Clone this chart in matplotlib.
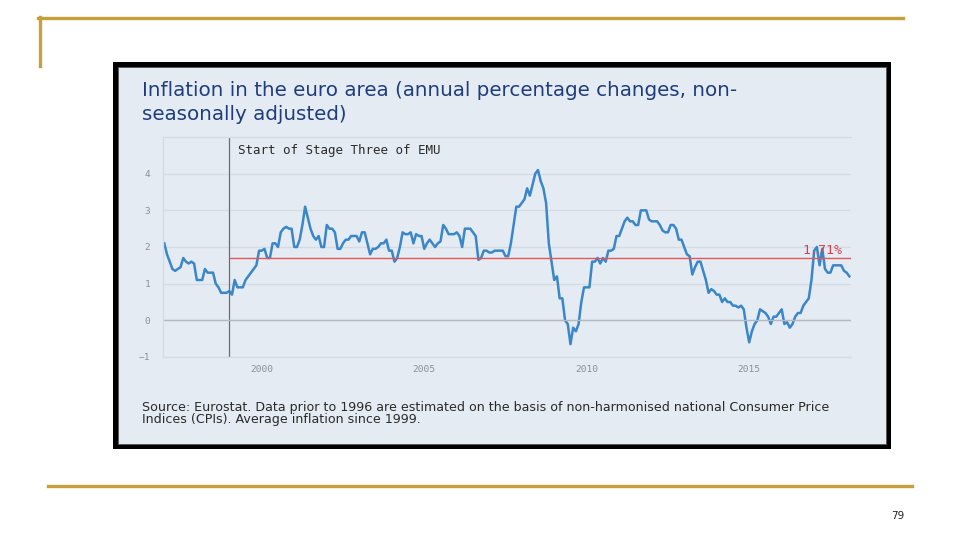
import numpy as np
from matplotlib import pyplot as pp
from matplotlib.lines import Line2D
from matplotlib.patches import Rectangle

# monthly HICP, annual % change, Jan 1997 .. Feb 2018
infl = [
    2.1, 1.8, 1.6, 1.4, 1.35, 1.4, 1.45, 1.7, 1.6, 1.55, 1.6, 1.55,   # 1997
    1.1, 1.1, 1.1, 1.4, 1.3, 1.3, 1.3, 1.0, 0.9, 0.75, 0.75, 0.75,   # 1998
    0.8, 0.7, 1.1, 0.9, 0.9, 0.9, 1.1, 1.2, 1.3, 1.4, 1.5, 1.9,      # 1999
    1.9, 1.95, 1.7, 1.7, 2.1, 2.1, 2.0, 2.4, 2.5, 2.55, 2.5, 2.5,    # 2000
    2.0, 2.0, 2.2, 2.6, 3.1, 2.8, 2.5, 2.3, 2.2, 2.3, 2.0, 2.0,      # 2001
    2.6, 2.5, 2.5, 2.4, 1.95, 1.95, 2.1, 2.2, 2.2, 2.3, 2.3, 2.3,    # 2002
    2.15, 2.4, 2.4, 2.1, 1.8, 1.95, 1.95, 2.0, 2.1, 2.1, 2.2, 1.9,   # 2003
    1.9, 1.6, 1.7, 2.0, 2.4, 2.35, 2.35, 2.4, 2.1, 2.35, 2.3, 2.3,   # 2004
    1.95, 2.1, 2.2, 2.1, 2.0, 2.1, 2.15, 2.6, 2.5, 2.35, 2.35, 2.35, # 2005
    2.4, 2.3, 2.0, 2.5, 2.5, 2.5, 2.4, 2.3, 1.65, 1.7, 1.9, 1.9,     # 2006
    1.85, 1.85, 1.9, 1.9, 1.9, 1.9, 1.75, 1.75, 2.1, 2.6, 3.1, 3.1,  # 2007
    3.2, 3.3, 3.6, 3.4, 3.7, 4.0, 4.1, 3.8, 3.6, 3.2, 2.1, 1.6,      # 2008
    1.1, 1.2, 0.6, 0.6, 0.0, -0.1, -0.65, -0.2, -0.3, -0.1, 0.5, 0.9,  # 2009
    0.9, 0.9, 1.6, 1.6, 1.7, 1.55, 1.7, 1.6, 1.9, 1.9, 1.95, 2.3,    # 2010
    2.3, 2.5, 2.7, 2.8, 2.7, 2.7, 2.6, 2.6, 3.0, 3.0, 3.0, 2.75,     # 2011
    2.7, 2.7, 2.7, 2.6, 2.45, 2.4, 2.4, 2.6, 2.6, 2.5, 2.2, 2.2,     # 2012
    2.0, 1.8, 1.75, 1.25, 1.45, 1.6, 1.6, 1.35, 1.1, 0.75, 0.85, 0.8,  # 2013
    0.7, 0.7, 0.5, 0.6, 0.5, 0.5, 0.4, 0.4, 0.35, 0.4, 0.3, -0.2,    # 2014
    -0.6, -0.3, -0.1, 0.0, 0.3, 0.25, 0.2, 0.1, -0.1, 0.1, 0.1, 0.2,  # 2015
    0.3, -0.1, -0.05, -0.2, -0.1, 0.1, 0.2, 0.2, 0.4, 0.5, 0.6, 1.1,  # 2016
    1.9, 2.0, 1.5, 1.95, 1.4, 1.3, 1.3, 1.5, 1.5, 1.5, 1.5, 1.35,    # 2017
    1.3, 1.2,                                                        # 2018
]
start = 1997
emu_start = 1999
avg_since_1999 = 1.71
avg_label = "1.71%"
x_ticks = [2000, 2005, 2010, 2015]
y_ticks = [-1, 0, 1, 2, 3, 4]

title_lines = ["Inflation in the euro area (annual percentage changes, non-",
               "seasonally adjusted)"]
emu_label = "Start of Stage Three of EMU"
source_lines = ["Source: Eurostat. Data prior to 1996 are estimated on the basis of non-harmonised national Consumer Price",
                "Indices (CPIs). Average inflation since 1999."]
page_no = "79"

months = start + np.arange(len(infl)) / 12.0

W, H = 960, 540
gold = "#c6a03a"
panel = "#e4ebf2"
mono = "DejaVu Sans Mono"  # chart labels in the screenshot are widely spaced


def fx(px):  # pixel -> figure fraction
    return px / W


def fy(py):
    return 1 - py / H


fig = pp.figure(figsize=(9.6, 5.4), dpi=100, facecolor="white")

# slide decoration
fig.add_artist(Line2D([fx(38), fx(903)], [fy(18), fy(18)], color=gold, lw=2.4))
fig.add_artist(Line2D([fx(40), fx(40)], [fy(17), fy(66)], color=gold, lw=2.4))
fig.add_artist(Line2D([fx(48), fx(912)], [fy(486), fy(486)], color=gold, lw=2.4))
fig.text(fx(898), fy(516), page_no, fontsize=7.5, ha="center", va="center", color="#222222")

# screenshot frame (behind the axes)
fig.add_artist(Rectangle((fx(113), fy(449)), fx(891 - 113), (449 - 62) / H,
                         facecolor="black", edgecolor="none", zorder=-3))
fig.add_artist(Rectangle((fx(118), fy(444)), fx(886 - 118), (444 - 67) / H,
                         facecolor=panel, edgecolor="#555555", lw=0.6, zorder=-2))

for i, line in enumerate(title_lines):
    fig.text(fx(142), fy(91 + 23 * i), line, fontsize=14.3, color="#1f3d7c",
             ha="left", va="center")
for i, line in enumerate(source_lines):
    fig.text(fx(142), fy(407 + 13 * i), line, fontsize=9.1, color="#2a2a2a",
             ha="left", va="center")

ax = fig.add_axes([fx(163), fy(357), fx(851 - 163), (357 - 137) / H])
ax.set_facecolor(panel)
ax.plot(months, infl, color="#3a86c8", lw=1.8)
ax.axvline(emu_start, color="#6a6f75", lw=0.9)
ax.hlines(avg_since_1999, emu_start, months[-1] + 0.05, color="#e0575a", lw=1.0)
ax.text(months[-1] - 0.2, avg_since_1999 + 0.02, avg_label, color="#d8404a", fontsize=9.5,
        family=mono, ha="right", va="bottom")
ax.text(emu_start + 0.27, 4.64, emu_label, color="#2a2a2a", fontsize=9,
        family=mono, ha="left", va="center")

ax.set_xlim(start - 0.04, months[-1] + 0.05)
ax.set_ylim(-1, 5)
ax.set_xticks(x_ticks)
ax.set_yticks(y_ticks)
ax.tick_params(length=0, labelsize=6.8, labelcolor="#8a9099")
ax.tick_params(axis="x", pad=6)
ax.tick_params(axis="y", pad=9)
for lab in ax.get_xticklabels() + ax.get_yticklabels():
    lab.set_family(mono)
ax.grid(axis="y", color="#d3dbe4", lw=0.9)
ax.axhline(0, color="#b4b9bf", lw=1.0)
for s in ["left", "bottom", "top"]:
    ax.spines[s].set_color("#d3dbe4")
    ax.spines[s].set_linewidth(0.9)
ax.spines["right"].set_visible(False)
ax.set_axisbelow(True)

fig.savefig("out.png", dpi=100, facecolor="white")
